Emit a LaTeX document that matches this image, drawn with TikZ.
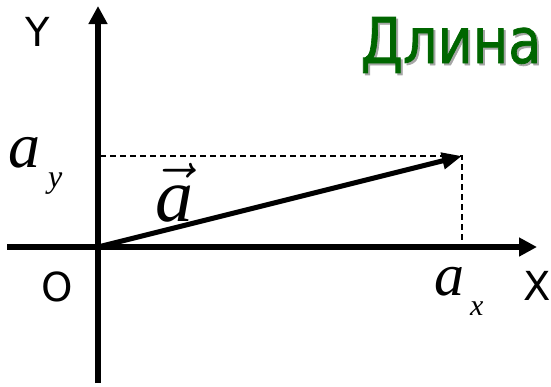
\documentclass[tikz,border=0pt]{standalone}
\usepackage{fix-cm}
\usepackage{fontspec}
\setmainfont{DejaVu Sans}
\newfontfamily\tnr{Liberation Serif}
\newfontfamily\titlefont{DejaVu Sans}[FakeBold=1.2]
\usetikzlibrary{arrows.meta}
\definecolor{titlegreen}{HTML}{006600}

\begin{document}
\begin{tikzpicture}[x=1pt, y=-1pt,
  axis/.style={line width=5.5pt, -{Triangle[length=18pt,width=18pt]}},
  vecline/.style={line width=5pt, -{Triangle[length=20pt,width=16pt]}},
  proj/.style={line width=1.2pt, dash pattern=on 6pt off 4pt},
  lbl/.style={inner sep=0pt, font=\fontsize{40}{40}\selectfont},
  coordlbl/.style={inner sep=0pt, anchor=base west},
  title/.style={inner sep=0pt, anchor=base, font=\fontsize{63}{63}\selectfont\titlefont}]
\useasboundingbox (0,0) rectangle (551,386);
% axes
\coordinate (O) at (98,247);
\coordinate (ybot) at (98,383);
\coordinate (ytop) at (98,6);
\coordinate (xleft) at (7,247);
\coordinate (xright) at (537,247);
\coordinate (A) at (462,156);
\coordinate (Ay) at (100,156);
\coordinate (Ax) at (462,247);
\draw[axis] (ybot) -- (ytop);
\draw[axis] (xleft) -- (xright);
\draw[proj] (Ay) -- (A) -- (Ax);
\draw[vecline] (O) -- (A);
% labels
\node[lbl] (ylbl) at (38,32) {Y};
\node[lbl] (olbl) at (57,287) {O};
\node[lbl] (xlbl) at (537,286) {X};
\node[title, text=black!35] (titleshadow) at (453,65) {\scalebox{0.86}[1]{Длина}};
\node[title, text=titlegreen] (titletext) at (451,63) {\scalebox{0.86}[1]{Длина}};
\node[coordlbl] (aylbl) at (8,167) {\fontsize{64}{64}\selectfont\tnr\itshape a\hspace{8pt}\raisebox{-20pt}{\fontsize{32}{32}\selectfont y}};
\node[coordlbl] (axlbl) at (434,295) {\fontsize{60}{60}\selectfont\tnr\itshape a\hspace{6pt}\raisebox{-20pt}{\fontsize{30}{30}\selectfont x}};
\node[inner sep=0pt, anchor=base] (veclbl) at (174,221) {\fontsize{76}{76}\selectfont$\vec{\mbox{\tnr\itshape a}}$};
\end{tikzpicture}
\end{document}
